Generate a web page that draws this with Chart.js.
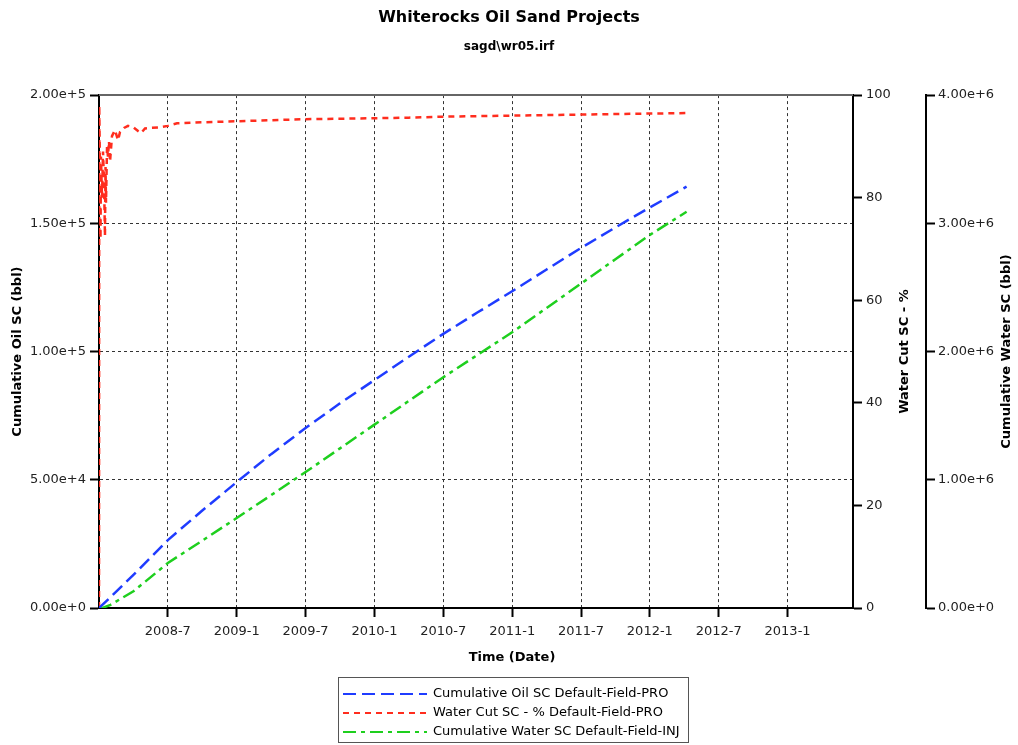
<!DOCTYPE html>
<html>
<head>
<meta charset="utf-8">
<title>Whiterocks Oil Sand Projects</title>
<script src="https://cdn.jsdelivr.net/npm/chart.js@4.4.1/dist/chart.umd.min.js"></script>
<style>
  html, body { margin: 0; padding: 0; background: #fff; }
  #wrap { width: 1018px; height: 745px; }
</style>
</head>
<body>
<div id="wrap"><canvas id="chart"></canvas></div>
<script>
// x values are months counted from 2008-1
const tickMonths = [6, 12, 18, 24, 30, 36, 42, 48, 54, 60];
const tickLabels = ["2008-7", "2009-1", "2009-7", "2010-1", "2010-7", "2011-1", "2011-7", "2012-1", "2012-7", "2013-1"];

// Cumulative Oil SC (bbl), left axis
const oilMonths = [0, 1, 3, 6, 9, 12, 15, 18, 21, 24, 27, 30, 33, 36, 39, 42, 45, 48, 51.2];
const oilValues = [0, 4200, 12900, 26500, 38000, 49100, 60000, 70200, 79800, 88900, 98000, 106900, 115300, 123500, 132000, 140400, 148400, 156200, 164300];

// Water Cut SC - %, first right axis
const cutMonths = [0, 0.02, 0.09, 0.13, 0.17, 0.26, 0.35, 0.44, 0.52, 0.57,
  0.61, 0.70, 0.78, 0.87, 0.96, 1.13, 1.39, 1.66, 1.83, 2.18,
  2.53, 2.96, 3.40, 3.66, 4.01, 4.44, 5.31, 6.0, 6.8, 9,
  12, 15, 18, 21, 24, 27, 30, 33, 36, 39, 42, 45, 48, 51.2];
const cutValues = [0, 98, 85, 72, 88, 80, 89, 83, 72.5, 86,
  79, 90, 88, 91, 87, 92, 93.2, 91.2, 92.8, 93.6,
  94.0, 93.8, 93.0, 92.6, 93.5, 93.6, 93.7, 94.0, 94.5, 94.7,
  94.9, 95.1, 95.3, 95.4, 95.5, 95.6, 95.8, 95.9, 96.0, 96.1, 96.2, 96.3, 96.4, 96.5];

// Cumulative Water SC (bbl), injection, second right axis
const injMonths = [0, 0.3, 1, 3, 6, 9, 12, 15, 18, 21, 24, 27, 30, 33, 36, 39, 42, 45, 48, 51.2];
const injValues = [0, 0, 25000, 130000, 351000, 525000, 702000, 880000, 1060000, 1245000, 1430000, 1615000, 1800000, 1975000, 2150000, 2340000, 2530000, 2720000, 2910000, 3090000];

function toPoints(xs, ys) {
  return xs.map(function (x, i) { return { x: x, y: ys[i] }; });
}

const FONT = '"DejaVu Sans", Verdana, sans-serif';
const tickFont = { family: FONT, size: 13 };

// titles on the right axes read bottom-to-top, x title centred on the page, legend box
const decorPlugin = {
  id: "decor",
  afterDraw: function (chart) {
    const ctx = chart.ctx;
    const area = chart.chartArea;
    ctx.save();

    // top frame line
    ctx.strokeStyle = "#666";
    ctx.lineWidth = 2;
    ctx.beginPath();
    ctx.moveTo(area.left, area.top);
    ctx.lineTo(area.right, area.top);
    ctx.stroke();

    ctx.fillStyle = "#000";
    ctx.font = "bold 13px " + FONT;
    ctx.textAlign = "center";
    ctx.textBaseline = "middle";
    const midY = (area.top + area.bottom) / 2;
    [["yCut", "Water Cut SC - %", 21], ["yWat", "Cumulative Water SC (bbl)", 11]].forEach(function (t) {
      const s = chart.scales[t[0]];
      ctx.save();
      ctx.translate(s.right - t[2], midY);
      ctx.rotate(-Math.PI / 2);
      ctx.fillText(t[1], 0, 0);
      ctx.restore();
    });
    ctx.fillText("Time (Date)", chart.width / 2 + 3, 658);

    // legend
    const bx = 338.5, by = 677.5, bw = 350, bh = 65;
    ctx.strokeStyle = "#555";
    ctx.lineWidth = 1;
    ctx.strokeRect(bx, by, bw, bh);
    ctx.font = "13px " + FONT;
    ctx.textAlign = "left";
    chart.data.datasets.forEach(function (ds, i) {
      const y = 694 + i * 19;
      ctx.strokeStyle = ds.borderColor;
      ctx.lineWidth = 2;
      ctx.setLineDash(ds.borderDash);
      ctx.beginPath();
      ctx.moveTo(343, y);
      ctx.lineTo(427, y);
      ctx.stroke();
      ctx.setLineDash([]);
      ctx.fillStyle = "#000";
      ctx.fillText(ds.label, 433, y);
    });
    ctx.restore();
  }
};

new Chart(document.getElementById("chart"), {
  type: "line",
  data: {
    datasets: [
      {
        label: "Cumulative Oil SC Default-Field-PRO",
        data: toPoints(oilMonths, oilValues),
        yAxisID: "y",
        borderColor: "#1f3cff",
        borderDash: [13, 6],
        borderWidth: 2.5
      },
      {
        label: "Water Cut SC - % Default-Field-PRO",
        data: toPoints(cutMonths, cutValues),
        yAxisID: "yCut",
        borderColor: "#ff2d1e",
        borderDash: [6, 5],
        borderWidth: 2.5
      },
      {
        label: "Cumulative Water SC Default-Field-INJ",
        data: toPoints(injMonths, injValues),
        yAxisID: "yWat",
        borderColor: "#1ecf1e",
        borderDash: [13, 5, 4, 5],
        borderWidth: 2.5
      }
    ]
  },
  options: {
    responsive: true,
    maintainAspectRatio: false,
    animation: false,
    layout: { padding: 0 },
    elements: { point: { radius: 0 }, line: { tension: 0, fill: false } },
    plugins: {
      legend: { display: false },
      tooltip: { enabled: false },
      title: {
        display: true,
        text: "Whiterocks Oil Sand Projects",
        color: "#000",
        font: { family: FONT, size: 16, weight: "bold" },
        padding: { top: 8, bottom: 4 }
      },
      subtitle: {
        display: true,
        text: "sagd\\wr05.irf",
        color: "#000",
        font: { family: FONT, size: 12, weight: "bold" },
        padding: { top: 8, bottom: 41.5 }
      }
    },
    scales: {
      x: {
        type: "linear",
        min: 0,
        max: 65.7,
        afterBuildTicks: function (scale) {
          scale.ticks = tickMonths.map(function (v) { return { value: v }; });
        },
        afterFit: function (scale) { scale.height = 137; },
        grid: { color: "#333", lineWidth: 1, tickColor: "#000", tickWidth: 2, tickLength: 9 },
        border: { color: "#000", width: 2, dash: [3, 3] },
        ticks: {
          font: tickFont,
          color: "#222",
          padding: 7,
          maxRotation: 0,
          autoSkip: false,
          callback: function (v) {
            const i = tickMonths.indexOf(v);
            return i >= 0 ? tickLabels[i] : "";
          }
        }
      },
      y: {
        position: "left",
        min: 0,
        max: 200000,
        afterFit: function (scale) { scale.width = 99; },
        grid: { color: "#333", lineWidth: 1, tickColor: "#000", tickWidth: 2, tickLength: 9 },
        border: { color: "#000", width: 2, dash: [3, 3] },
        ticks: {
          stepSize: 50000,
          font: tickFont,
          color: "#222",
          padding: 4,
          callback: function (v) { return v.toExponential(2); }
        },
        title: {
          display: true,
          text: "Cumulative Oil SC (bbl)",
          color: "#000",
          font: { family: FONT, size: 13, weight: "bold" },
          padding: { top: 10 }
        }
      },
      yCut: {
        position: "right",
        min: 0,
        max: 100,
        afterFit: function (scale) { scale.width = 73; },
        grid: { drawOnChartArea: false, color: "#000", tickWidth: 2, tickLength: 9 },
        border: { color: "#000", width: 2 },
        ticks: { stepSize: 20, font: tickFont, color: "#222", padding: 4 }
      },
      yWat: {
        position: "right",
        min: 0,
        max: 4000000,
        afterFit: function (scale) { scale.width = 92; },
        grid: { drawOnChartArea: false, color: "#000", tickWidth: 2, tickLength: 9 },
        border: { color: "#000", width: 2 },
        ticks: {
          stepSize: 1000000,
          font: tickFont,
          color: "#222",
          padding: 3,
          callback: function (v) { return v.toExponential(2); }
        }
      }
    }
  },
  plugins: [decorPlugin]
});
</script>
</body>
</html>
